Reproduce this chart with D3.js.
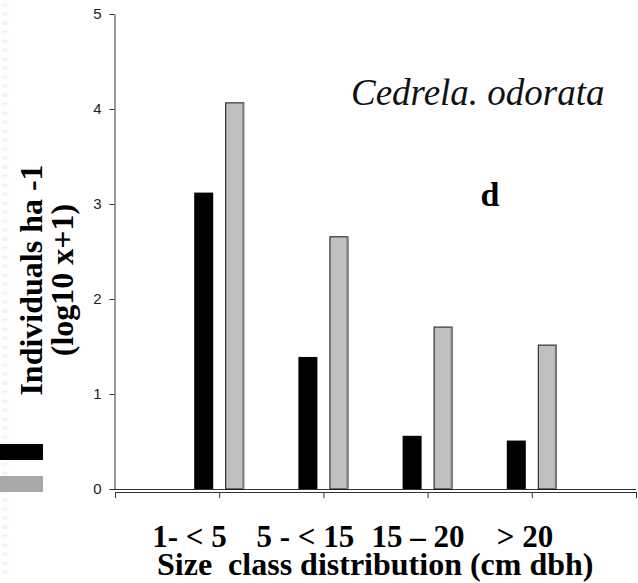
<!DOCTYPE html>
<html>
<head>
<meta charset="utf-8">
<script src="https://cdn.jsdelivr.net/npm/d3@7"></script>
<style>
  body { margin: 0; background: #fff; }
  svg { display: block; }
</style>
</head>
<body>
<div id="chart"></div>
<script>
// size classes and the two series (log10 x+1 of individuals per ha)
var sizeClasses = ["1- < 5", "5 - < 15", "15 \u2013 20", "> 20"];
var seriesDark = [3.12, 1.39, 0.56, 0.51];
var seriesLight = [4.07, 2.66, 1.71, 1.52];
var yTicks = [0, 1, 2, 3, 4, 5];

var width = 638, height = 583;

var svg = d3.select("#chart").append("svg")
    .attr("width", width)
    .attr("height", height);

// faint scan texture down the left edge
var tex = svg.append("g").attr("class", "texture");
d3.range(0, height - 10, 9).forEach(function (yy) {
    tex.append("text")
        .attr("x", 1).attr("y", yy + 8)
        .attr("font-family", "DejaVu Sans").attr("font-size", 9)
        .attr("fill", "#ececec")
        .text("\u2248");
});

var x = d3.scaleLinear().domain([0, 5]).range([115, 636]);
var y = d3.scaleLinear().domain([0, 5]).range([489, 14]);

var barW = 19;

// y axis
var yAxis = svg.append("g")
    .attr("transform", "translate(" + (x(0) - 0.5) + ",0)")
    .call(d3.axisLeft(y).tickValues(yTicks).tickFormat(d3.format("d"))
        .tickSize(5).tickSizeOuter(0).tickPadding(8));
yAxis.select(".domain").attr("stroke", "#333");
yAxis.selectAll(".tick line").attr("stroke", "#333");
yAxis.selectAll(".tick text")
    .attr("font-family", "'Liberation Sans', Arial, sans-serif")
    .attr("font-size", 15)
    .attr("fill", "#222");

// baseline of the plot
svg.append("line")
    .attr("x1", x(0) - 5).attr("x2", x(5))
    .attr("y1", y(0) + 0.5).attr("y2", y(0) + 0.5)
    .attr("stroke", "#333");

// x axis, drawn a little below the plot
var xAxis = svg.append("g")
    .attr("transform", "translate(0," + (y(0) + 3) + ")")
    .call(d3.axisBottom(x).ticks(5).tickFormat("").tickSize(6).tickSizeOuter(0));
xAxis.select(".domain").attr("stroke", "#333");
xAxis.selectAll(".tick line").attr("stroke", "#333");

// bars
var bars = svg.append("g").attr("class", "bars");

bars.selectAll("rect.dark")
    .data(seriesDark)
    .enter().append("rect")
    .attr("class", "dark")
    .attr("x", function (d, i) { return x(i + 1) - 25; })
    .attr("y", function (d) { return y(d); })
    .attr("width", barW)
    .attr("height", function (d) { return y(0) - y(d); })
    .attr("fill", "#000");

bars.selectAll("rect.light")
    .data(seriesLight)
    .enter().append("rect")
    .attr("class", "light")
    .attr("x", function (d, i) { return x(i + 1) + 6.5; })
    .attr("y", function (d) { return y(d) + 0.5; })
    .attr("width", barW - 1)
    .attr("height", function (d) { return y(0) - y(d) - 0.5; })
    .attr("fill", "#c0c0c0")
    .attr("stroke", "#111")
    .attr("stroke-width", 1);

// shaded right edge of the light bars
bars.selectAll("line.shade")
    .data(seriesLight)
    .enter().append("line")
    .attr("class", "shade")
    .attr("x1", function (d, i) { return x(i + 1) + 24; })
    .attr("x2", function (d, i) { return x(i + 1) + 24; })
    .attr("y1", function (d) { return y(d) + 1; })
    .attr("y2", y(0))
    .attr("stroke", "#808080")
    .attr("stroke-width", 2);

// legend swatches (labels cut off at the left edge)
svg.append("rect").attr("x", 0).attr("y", 444).attr("width", 43).attr("height", 16).attr("fill", "#000");
svg.append("rect").attr("x", 0).attr("y", 476).attr("width", 43).attr("height", 16).attr("fill", "#a8a8a8");

var serif = "'Liberation Serif', 'Times New Roman', serif";

// species name and panel letter
svg.append("text")
    .attr("x", 351).attr("y", 105)
    .attr("font-family", serif).attr("font-style", "italic")
    .attr("font-size", 37)
    .attr("fill", "#111")
    .text("Cedrela. odorata");

svg.append("text")
    .attr("x", 490).attr("y", 206)
    .attr("text-anchor", "middle")
    .attr("font-family", serif).attr("font-weight", "bold")
    .attr("font-size", 34)
    .text("d");

// y title, two centred lines
var yTitle = svg.append("g")
    .attr("font-family", serif).attr("font-weight", "bold")
    .attr("font-size", 32)
    .attr("text-anchor", "middle");
yTitle.append("text")
    .attr("transform", "translate(42,280) rotate(-90)")
    .text("Individuals ha -1");
yTitle.append("text")
    .attr("transform", "translate(73,280) rotate(-90)")
    .text("(log10 x+1)");

// category labels under the axis
var labelOffsets = [-67, -67, -56, -35];
svg.append("g")
    .attr("font-family", serif).attr("font-weight", "bold")
    .attr("font-size", 31)
    .selectAll("text")
    .data(sizeClasses)
    .enter().append("text")
    .attr("x", function (d, i) { return x(i + 1) + labelOffsets[i]; })
    .attr("y", 547)
    .text(function (d) { return d; });

svg.append("text")
    .attr("x", 157).attr("y", 575)
    .attr("font-family", serif).attr("font-weight", "bold")
    .attr("font-size", 32)
    .attr("xml:space", "preserve")
    .style("white-space", "pre")
    .text("Size  class distribution (cm dbh)");
</script>
</body>
</html>
